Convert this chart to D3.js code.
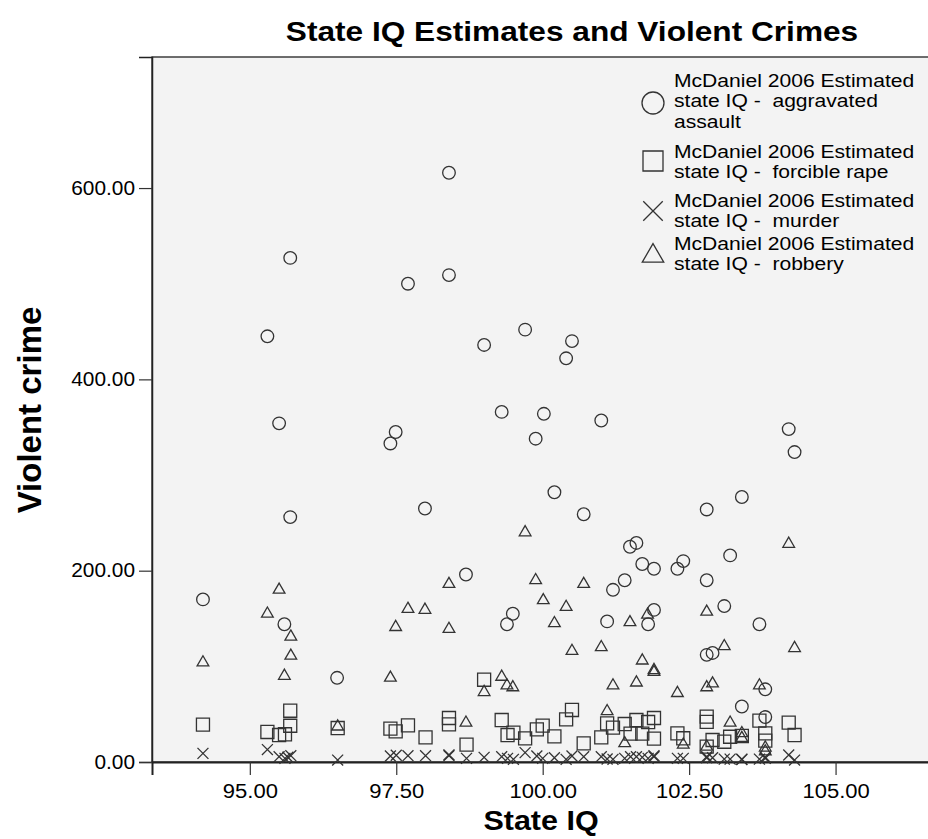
<!DOCTYPE html>
<html>
<head>
<meta charset="utf-8">
<script src="https://cdn.jsdelivr.net/npm/d3@7"></script>
<style>
  body { margin: 0; background: #fff; }
  svg text { font-family: Arial, "Liberation Sans", sans-serif; fill: #000; }
</style>
</head>
<body>
<div id="chart"></div>
<script>
// [state IQ, rate] per crime
var assault = [[98.40,616],[95.69,527],[98.40,509],[97.70,500],[95.30,445],[99.70,452],[99.00,436],[99.30,366],
  [95.50,354],[97.49,345],[97.40,333],[95.69,256],[97.99,265],[100.50,440],[100.40,422],[100.02,364],[99.88,338],
  [101.0,357],[104.2,348],[104.3,324],[100.2,282],[100.7,259],[103.4,277],[102.8,264],[94.2,170],[95.59,144],
  [96.49,88],[98.69,196],[99.49,155],[99.39,144],[101.6,229],[101.49,225],[103.2,216],[101.7,207],[101.9,202],
  [102.4,210],[102.3,202],[101.4,190],[101.2,180],[102.8,190],[101.9,159],[101.8,144],[103.1,163],[101.1,147],
  [103.7,144],[102.8,112],[102.9,114],[103.8,76],[103.4,58],[103.8,47]];
var rape = [[94.2,39],[95.3,31.4],[95.5,28.2],[95.6,29],[95.69,53.6],[95.69,37.9],[96.5,35.5],[97.4,34.9],[97.49,32],
  [97.7,38.3],[98.0,25.7],[98.4,46],[98.4,39.4],[98.7,18.1],[99.0,86],[99.3,43.9],[99.4,28.2],[99.5,30.6],[99.7,24.7],
  [99.9,34.1],[100.0,38],[100.2,26.8],[100.4,44.6],[100.5,54.4],[100.7,19.5],[101.0,25.7],[101.1,40.4],[101.2,35.9],
  [101.4,39.7],[101.5,29.6],[101.6,43.9],[101.7,29.6],[101.8,41.8],[101.9,46],[101.9,24.4],[102.3,30],[102.4,24.8],
  [102.8,47.4],[102.8,42],[102.8,16],[102.9,23],[103.1,21.2],[103.2,26.4],[103.4,27.2],[103.7,43.2],[103.8,30],
  [103.8,22.3],[104.2,41.1],[104.3,28.2]];
var murder = [[94.2,9],[95.3,13],[95.5,5.6],[95.6,3.8],[95.7,6.6],[95.65,5],[96.5,2],[97.4,6.3],[97.5,7],[97.7,6.6],
  [98.0,6.6],[98.4,6.6],[98.4,7.5],[98.7,3.8],[99.0,4.9],[99.3,5.6],[99.4,3.8],[99.5,2.8],[99.7,9.8],[99.9,6.3],
  [100.0,3.8],[100.2,4.5],[100.4,2.8],[100.5,6.3],[100.7,5.6],[101.0,5.6],[101.1,3.1],[101.2,2.8],[101.4,3.8],
  [101.5,5.6],[101.6,5.6],[101.7,4.9],[101.8,3.8],[101.9,5.6],[101.9,6.5],[102.3,3.8],[102.4,3.8],[102.8,5.6],
  [102.8,4.5],[102.9,4.5],[103.1,3],[103.2,3],[103.4,3],[103.4,2.5],[103.7,3],[103.8,3.8],[103.8,5],[104.2,7.3],[104.3,2]];
var robbery = [[99.70,240],[95.50,180],[95.30,155],[95.70,131],[95.70,111],[94.20,104],[95.59,90],[98.40,186],
  [97.70,160],[97.99,159],[97.49,141],[98.40,139],[97.40,88],[99.88,190],[99.30,89],[99.00,73],[99.39,80],[99.49,78],
  [96.50,37],[98.69,41],[104.2,228],[100.7,186],[100.01,169],[100.4,162],[100.2,145],[101.49,146],[101.79,154],
  [102.8,157],[103.1,121],[104.3,119],[100.5,116],[101.0,120],[101.7,106],[101.9,96],[101.9,94],[101.2,80],
  [101.6,83],[102.3,72],[102.8,78],[102.9,82],[103.7,80],[101.1,53],[103.2,41],[101.4,19.5],[102.4,18],[102.8,16],
  [103.4,30],[103.4,25],[103.8,15],[103.8,11]];

var xTicks = [95, 97.5, 100, 102.5, 105];
var yTicks = [0, 200, 400, 600];
var legendLines = [
  ["McDaniel 2006 Estimated", "state IQ -  aggravated", "assault"],
  ["McDaniel 2006 Estimated", "state IQ -  forcible rape"],
  ["McDaniel 2006 Estimated", "state IQ -  murder"],
  ["McDaniel 2006 Estimated", "state IQ -  robbery"]
];

var width = 928, height = 839;
var margin = {left: 152, top: 57, bottom: 77};
var plotRight = 941;
var stretch = 1.13; // the original output is a bit wide

var svg = d3.select("#chart").append("svg")
  .attr("width", width).attr("height", height);

var x = d3.scaleLinear().domain([93.33, 106.8]).range([margin.left, plotRight]);
var y = d3.scaleLinear().domain([0, 737]).range([height - margin.bottom, margin.top]);

// text that is widened around its anchor point
function wideText(px, py, size, txt, rotate) {
  var g = svg.append("g")
    .attr("transform", "translate(" + px + "," + py + ")" + (rotate ? " rotate(-90)" : " scale(" + stretch + ",1)"));
  return g.append("text")
    .attr("text-anchor", "middle")
    .style("font-size", size + "px").style("font-weight", "bold")
    .text(txt);
}

// plot background
svg.append("rect")
  .attr("x", margin.left).attr("y", margin.top)
  .attr("width", plotRight - margin.left).attr("height", y(0) - margin.top)
  .attr("fill", "#f3f3f3").attr("stroke", "#222").attr("stroke-width", 1.3);

// title
wideText(572, 41, 28, "State IQ Estimates and Violent Crimes");

// axes
var xAxis = svg.append("g")
  .attr("transform", "translate(0," + y(0) + ")")
  .call(d3.axisBottom(x).tickValues(xTicks).tickSize(13).tickPadding(9)
    .tickFormat(d3.format(".2f")));
xAxis.select(".domain").attr("stroke", "#222").attr("stroke-width", 2);
xAxis.selectAll(".tick line").attr("stroke", "#333").attr("stroke-width", 1.2);
xAxis.selectAll("text")
  .style("font-size", "19.5px").style("font-family", "Arial, 'Liberation Sans', sans-serif")
  .attr("transform", "scale(" + stretch + ",1)");

var yAxis = svg.append("g")
  .attr("transform", "translate(" + margin.left + ",0)")
  .call(d3.axisLeft(y).tickValues(yTicks).tickSize(13).tickPadding(4)
    .tickFormat(d3.format(".2f")));
yAxis.select(".domain").attr("stroke", "#222").attr("stroke-width", 1.5);
yAxis.selectAll(".tick line").attr("stroke", "#333").attr("stroke-width", 1.2);
yAxis.selectAll("text")
  .style("font-size", "19.5px").style("font-family", "Arial, 'Liberation Sans', sans-serif")
  .each(function() {
    var t = d3.select(this), tx = +t.attr("x");
    t.attr("x", 0).attr("transform", "translate(" + tx + ",0) scale(1.07,1)");
  });

// axis titles
wideText(541, 830, 27, "State IQ");
wideText(41, 410, 33, "Violent crime", true);

// series
var series = [
  {data: assault, type: d3.symbolCircle, size: 125},
  {data: rape, type: d3.symbolSquare, size: 170},
  {data: murder, type: d3.symbolTimes, size: 80},
  {data: robbery, type: d3.symbolTriangle2, size: 98}
];

var marks = svg.append("g");
series.forEach(function(s) {
  marks.append("g").selectAll("path")
    .data(s.data)
    .enter()
    .append("path")
      .attr("transform", function(d) { return "translate(" + x(d[0]) + "," + y(d[1]) + ")"; })
      .attr("d", d3.symbol().type(s.type).size(s.size))
      .attr("fill", "none")
      .attr("stroke", "#333")
      .attr("stroke-width", 1.3);
});

// legend
var legendSize = [380, 400, 250, 330];
var legendY = [87, 158, 207, 250];
var legendSymY = [103, 161, 211, 256];
var legend = svg.append("g");
series.forEach(function(s, i) {
  legend.append("path")
    .attr("transform", "translate(653," + legendSymY[i] + ")")
    .attr("d", d3.symbol().type(s.type).size(legendSize[i]))
    .attr("fill", "none").attr("stroke", "#333").attr("stroke-width", 1.3);
  var t = legend.append("g")
    .attr("transform", "translate(674," + legendY[i] + ") scale(1.14,1)")
    .append("text")
    .style("font-size", "18.5px");
  legendLines[i].forEach(function(line, j) {
    t.append("tspan").attr("x", 0).attr("dy", j == 0 ? 0 : 20.5)
      .attr("xml:space", "preserve").style("white-space", "pre").text(line);
  });
});
</script>
</body>
</html>
